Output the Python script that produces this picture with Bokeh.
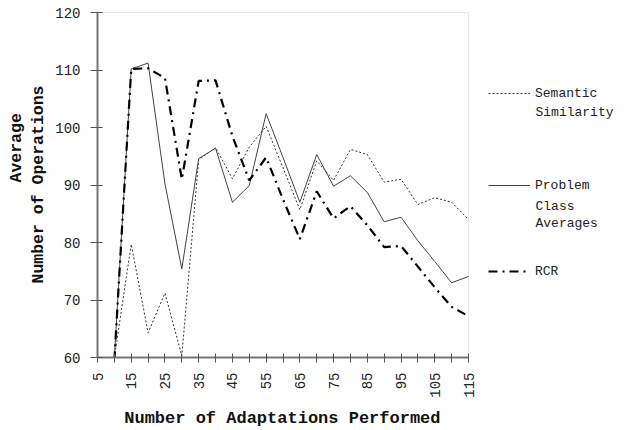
import math
from bokeh.plotting import figure
from bokeh.models import Range1d, FixedTicker, Label, Legend, LegendItem, Title, BoxAnnotation
from bokeh.embed import file_html
from bokeh.resources import INLINE

adaptations = [10, 15, 20, 25, 30, 35, 40, 45, 50, 55, 60, 65, 70, 75, 80, 85, 90, 95, 100, 105, 110, 115]
semantic_similarity = [60, 79.7, 64.3, 71.2, 60.3, 94.4, 96.5, 91.1, 96.6, 100.2, 93.0, 85.7, 94.2, 90.8, 96.2, 95.3, 90.5, 91.0, 86.6, 87.8, 87.0, 84.0]
problem_class_averages = [60, 110.2, 111.2, 90.2, 75.4, 94.6, 96.4, 87.0, 89.9, 102.4, 94.8, 87.0, 95.3, 89.8, 91.6, 88.7, 83.6, 84.4, 80.3, 76.7, 73.0, 74.1]
rcr = [59.5, 110.2, 110.3, 108.6, 91.0, 108.1, 108.2, 98.5, 90.8, 94.8, 87.5, 80.6, 88.9, 84.2, 86.3, 83.0, 79.2, 79.4, 75.8, 72.2, 68.8, 67.2]

x_major_ticks = [5, 15, 25, 35, 45, 55, 65, 75, 85, 95, 105, 115]
x_minor_ticks = [10, 20, 30, 40, 50, 60, 70, 80, 90, 100, 110]
y_ticks = [60, 70, 80, 90, 100, 110, 120]
X_MIN, X_MAX, Y_MIN, Y_MAX = 5, 115, 60, 120

FONT = "Liberation Mono"
NBSP = "\u00a0"

# geometry of the plot area (pixels)
W, H = 636, 430
LEFT, TOP, AXIS_RIGHT, BOTTOM = 97, 12, 468, 357
FRAME_RIGHT = 630
px_per_unit = (AXIS_RIGHT - LEFT) / (X_MAX - X_MIN)
x_end = X_MAX + (FRAME_RIGHT - AXIS_RIGHT) / px_per_unit
px_per_y = (BOTTOM - TOP) / (Y_MAX - Y_MIN)
y_end = Y_MAX + 1.0 / px_per_y   # one extra pixel so the dotted top border is not clipped

p = figure(width=W, height=H, x_range=Range1d(X_MIN, x_end), y_range=Range1d(Y_MIN, y_end),
           output_backend="svg", toolbar_location=None,
           min_border_left=LEFT, min_border_right=W - FRAME_RIGHT,
           min_border_top=TOP - 1, min_border_bottom=H - BOTTOM)
p.grid.visible = False
p.outline_line_color = None

p.add_layout(BoxAnnotation(left=X_MIN, right=X_MAX, bottom=Y_MIN, top=Y_MAX, fill_alpha=0,
                           line_color="#555555", line_dash="1 1", line_width=1))

for ax in (p.xaxis[0], p.yaxis[0]):
    ax.axis_line_color = "#777777"
    ax.axis_line_width = 2
    ax.major_tick_line_color = "#555555"
    ax.major_tick_line_width = 1
    ax.minor_tick_line_color = "#555555"
    ax.major_label_text_font = FONT
    ax.major_label_text_font_size = "14px"
    ax.major_label_text_color = "#222222"
    ax.axis_label_text_font = FONT
    ax.axis_label_text_font_style = "bold"
    ax.axis_label_text_color = "#111111"

p.xaxis.ticker = FixedTicker(ticks=x_major_ticks, minor_ticks=x_minor_ticks)
p.xaxis.bounds = (X_MIN, X_MAX)
p.xaxis.major_tick_in = 4
p.xaxis.major_tick_out = 5
p.xaxis.minor_tick_in = 4
p.xaxis.minor_tick_out = 5
p.xaxis.major_label_orientation = math.pi / 2
p.xaxis.major_label_standoff = 10
# the label is centred on the whole (wider) frame: pad its end so the words sit under the axis
p.xaxis.axis_label = "Number of Adaptations Performed" + NBSP * 16
p.xaxis.axis_label_text_font_size = "17px"
p.xaxis.axis_label_standoff = 8

p.yaxis.ticker = FixedTicker(ticks=y_ticks)
p.yaxis.bounds = (Y_MIN, Y_MAX)
p.yaxis.major_tick_in = 5
p.yaxis.major_tick_out = 7
p.yaxis.minor_tick_line_color = None
p.yaxis.major_label_standoff = 10
p.yaxis.axis_label = "Number of Operations"
p.yaxis.axis_label_text_font_size = "16.5px"
p.yaxis.axis_label_standoff = 4

r1 = p.line(adaptations, semantic_similarity, line_color="#333333", line_width=1, line_dash="2 2")
r2 = p.line(adaptations, problem_class_averages, line_color="#444444", line_width=1)
r3 = p.line(adaptations, rcr, line_color="black", line_width=2.2, line_dash="9 5 2 5")

for label, rend, yrel in (("Semantic", r1, 264), ("Problem", r2, 172), ("RCR", r3, 86)):
    lg = Legend(items=[LegendItem(label=label, renderers=[rend])], location=(391, yrel - 10),
                glyph_width=42, glyph_height=20, label_height=20, padding=0, margin=0,
                border_line_color=None, background_fill_alpha=0, label_standoff=5,
                label_text_font=FONT, label_text_font_size="13px", label_text_color="#222222")
    p.add_layout(lg)

for text, yrel in (("Similarity", 245.5), ("Class", 151), ("Averages", 134)):
    p.add_layout(Label(x=438, y=yrel, x_units="screen", y_units="screen", text=text,
                       text_font=FONT, text_font_size="13px", text_color="#222222",
                       text_align="left", text_baseline="middle"))

p.add_layout(Title(text="Average", align="left", offset=175, standoff=0.5,
                   text_font=FONT, text_font_size="16.5px", text_font_style="bold",
                   text_color="#111111"), "left")

open("out.html", "w").write(file_html(p, INLINE))
